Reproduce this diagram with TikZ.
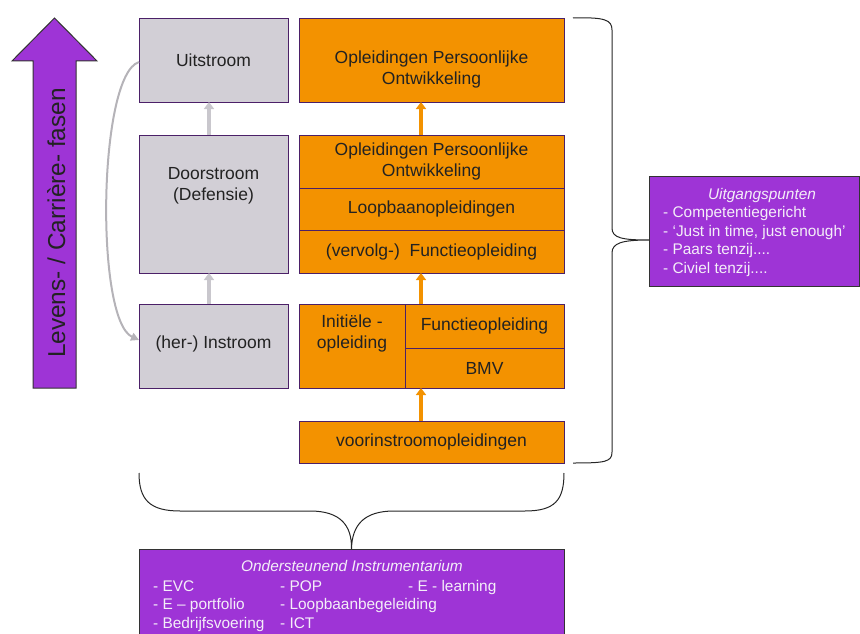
\documentclass[tikz,border=0pt]{standalone}
\usepackage{fontspec}
\setmainfont{Liberation Sans}
\usetikzlibrary{arrows.meta}
\definecolor{vio}{HTML}{9E34D6}
\definecolor{ora}{HTML}{F39200}
\definecolor{gry}{HTML}{D2CFD6}
\definecolor{bord}{HTML}{4B2068}
\definecolor{garr}{HTML}{C9C7CD}
\definecolor{wtext}{HTML}{F4EEF8}
\definecolor{dtext}{HTML}{222222}
\begin{document}
\begin{tikzpicture}[x=1pt,y=-1pt,
  graybox/.style={draw=bord, fill=gry, line width=0.8pt, inner sep=0pt, outer sep=0pt},
  orabox/.style={draw=bord, fill=ora, line width=0.8pt, inner sep=0pt, outer sep=0pt},
  viobox/.style={draw=black!80, fill=vio, line width=0.8pt, inner sep=0pt, outer sep=0pt},
  lbl/.style={font=\fontsize{17.5}{21}\selectfont, text=dtext, align=center, inner sep=0pt},
  wlbl/.style={font=\fontsize{15.4}{18.8}\selectfont, text=wtext, inner sep=0pt},
  garrow/.style={draw=garr, line width=4.5pt, -{Triangle[length=7pt,width=10pt]}},
  oarrow/.style={draw=ora, line width=3.5pt, -{Triangle[length=7pt,width=10pt]}},
  brace/.style={draw=black!85, line width=1pt},
]
\useasboundingbox (0,0) rectangle (860,634);

% big arrow
\path[fill=vio, draw=black!80, line width=1pt]
  (33,388) -- (33,61) -- (12,61) -- (54.5,18) -- (97,61) -- (76,61) -- (76,388) -- cycle;
\node[rotate=90, anchor=base, inner sep=0pt, text=dtext, font=\fontsize{24.4}{28}\selectfont] (lev) at (65,223) {Levens- / Carrière- fasen};

% gray boxes
\node[graybox, minimum width=149pt, minimum height=84pt] (uit) at (213.5,60) {};
\node[lbl] (uitt) at (213.5,60) {Uitstroom};
\node[graybox, minimum width=149pt, minimum height=138pt] (door) at (213.5,204) {};
\node[lbl] (doort) at (213.5,186) {Doorstroom\\(Defensie)};
\node[graybox, minimum width=149pt, minimum height=84pt] (inst) at (213.5,346) {};
\node[lbl] (instt) at (213.5,344) {(her-) Instroom};

\draw[garrow] ([xshift=-4.5pt]door.north) -- ([xshift=-4.5pt]uit.south);
\draw[garrow] ([xshift=-4.5pt]inst.north) -- ([xshift=-4.5pt]door.south);
\draw[draw=garr!90!black, line width=2pt, -{Triangle[length=8pt,width=8pt]}]
  ([yshift=-2pt]uit.west) .. controls (98,75) and (95,320) .. ([yshift=6pt]inst.west);

% orange boxes
\node[orabox, minimum width=265pt, minimum height=84pt] (opo) at (431.5,60) {};
\node[lbl] (opot) at (431.5,69) {Opleidingen Persoonlijke\\Ontwikkeling};
\node[orabox, minimum width=265pt, minimum height=53pt, lbl] (s1) at (431.5,161.5) {Opleidingen Persoonlijke\\Ontwikkeling};
\node[orabox, minimum width=265pt, minimum height=42pt, lbl] (s2) at (431.5,209) {Loopbaanopleidingen};
\node[orabox, minimum width=265pt, minimum height=43pt, lbl] (s3) at (431.5,251.5) {(vervolg-)\ \ Functieopleiding};
\node[orabox, minimum width=106pt, minimum height=84pt] (ini) at (352,346) {};
\node[lbl] (init) at (352,333.5) {Initiële -\\opleiding};
\node[orabox, minimum width=159pt, minimum height=44pt, lbl] (fun) at (484.5,326) {Functieopleiding};
\node[orabox, minimum width=159pt, minimum height=40pt, lbl] (bmv) at (484.5,368) {BMV};
\node[orabox, minimum width=265pt, minimum height=42pt, lbl] (voor) at (431.5,442) {voorinstroomopleidingen};

\draw[oarrow] ([xshift=-10.5pt]s1.north) -- ([xshift=-10.5pt]opo.south);
\draw[oarrow] ([xshift=16pt]ini.north east) -- ([xshift=-10.5pt]s3.south);
\draw[oarrow] ([xshift=-10.5pt]voor.north) -- ([xshift=16pt]ini.south east);

% right brace and box
\node[viobox, minimum width=210pt, minimum height=110pt] (uitg) at (754,231) {};
\node[wlbl, anchor=base] (uitgt) at (762,199) {\itshape Uitgangspunten};
\node[wlbl, anchor=north west] (uitgl) at (663,204) {%
  \renewcommand\arraystretch{1}%
  \begin{tabular}{@{}l@{}}
  - Competentiegericht\\- ‘Just in time, just enough’\\- Paars tenzij....\\- Civiel tenzij....
  \end{tabular}};
\draw[brace] (573,18) .. controls (605,17) and (612,20) .. (612,30) -- (612,228)
  .. controls (612,238) and (622,240) .. (uitg.west |- 0,240)
  .. controls (622,240) and (612,243) .. (612,253) -- (612,452)
  .. controls (612,462) and (605,463) .. (573,463);

% bottom brace and box
\node[viobox, minimum width=425pt, minimum height=95pt] (instr) at (351.5,596.5) {};
\draw[brace] (139,473) .. controls (139,500) and (150,511) .. (180,511) -- (310,511)
  .. controls (340,511) and (352,525) .. (instr.north)
  .. controls (352,525) and (364,511) .. (394,511) -- (525,511)
  .. controls (555,511) and (564,500) .. (564,473);
\node[wlbl, anchor=base] (instrt) at (352,571) {\itshape Ondersteunend Instrumentarium};
\node[wlbl, anchor=north west] (instrl) at (153,577.7) {%
  \renewcommand\arraystretch{1}%
  \begin{tabular}{@{}l@{}l@{}l@{}}
  \makebox[127pt][l]{- EVC} & \makebox[128pt][l]{- POP} & - E - learning\\
  \makebox[127pt][l]{- E – portfolio} & \makebox[128pt][l]{- Loopbaanbegeleiding} & \\
  \makebox[127pt][l]{- Bedrijfsvoering} & \makebox[128pt][l]{- ICT} &
  \end{tabular}};
\end{tikzpicture}
\end{document}
